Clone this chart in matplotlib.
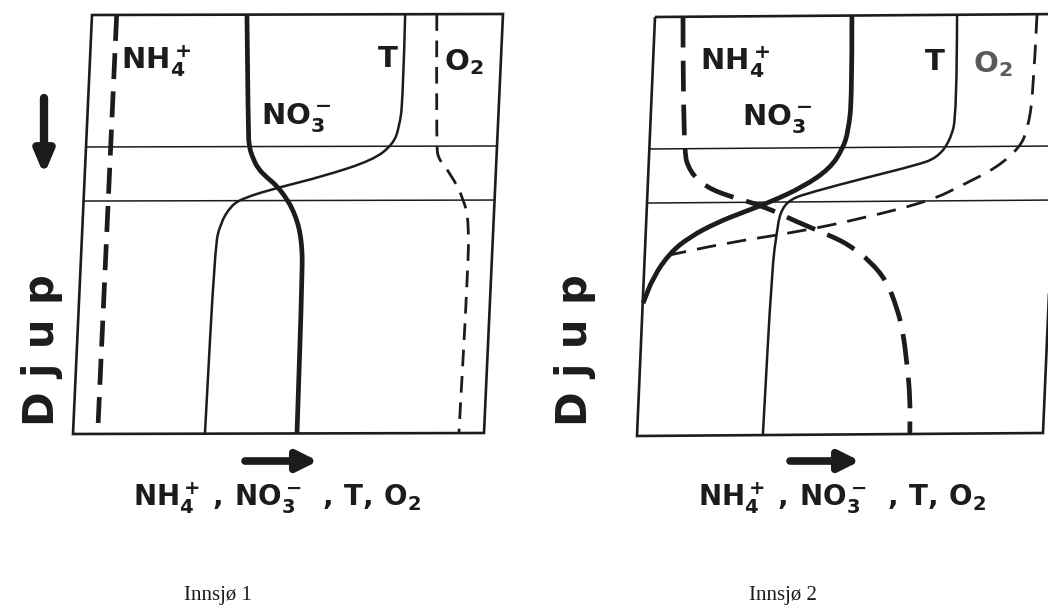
import numpy as np
import matplotlib
matplotlib.use("Agg")
import matplotlib.pyplot as plt
from matplotlib.transforms import Affine2D
from matplotlib.patches import Polygon, PathPatch
from matplotlib.path import Path

# Profiles: value across the panel (0-100), depth down (0-100)
layer_depths = [31.5, 44.4]

# Innsjø 1
l1_nh4_depth = [0, 100]
l1_nh4 = [6, 6]
l1_no3_depth = [0, 28, 31.5, 34, 36.8, 39, 41.1, 44.4, 47, 49.9, 52.5, 55.4, 60, 100]
l1_no3 = [37.7, 39.3, 39.7, 40.6, 42.1, 44.5, 47.1, 49.7, 51.2, 52.4, 53.1, 53.6, 54.0, 54.5]
l1_t_depth = [0, 20.5, 27, 31, 34.8, 38.7, 41.3, 43.7, 45.6, 49.9, 55.4, 100]
l1_t = [76.2, 76.6, 76.0, 74.7, 70.0, 57.8, 47.2, 39.0, 35.9, 33.5, 32.5, 32.1]
l1_o2_depth = [0, 31.5, 34.8, 38.2, 44.4, 49.9, 61.1, 100]
l1_o2 = [83.9, 85.2, 86.0, 89.1, 92.6, 94.0, 94.3, 93.9]

# Innsjø 2
l2_nh4_depth = [0, 31.7, 37.2, 40.8, 43.0, 45.3, 49.2, 52.5, 54.9, 58.7, 63.5, 69.9, 75.4, 83.5, 91.4, 100]
l2_nh4 = [6.9, 8.3, 10.3, 14.6, 20.4, 28.6, 37.2, 45.5, 50.5, 55.6, 59.9, 62.7, 64.4, 65.8, 66.9, 67.2]
l2_no3_depth = [0, 19.8, 27.7, 31.7, 36.5, 40.8, 44.4, 46.8, 49.2, 52.5, 56.3, 62.1, 68.3]
l2_no3 = [48.5, 49.4, 48.8, 47.7, 44.7, 38.3, 30.3, 23.7, 17.4, 11.0, 6.2, 2.3, 0.1]
l2_t_depth = [0, 23.9, 30.1, 34.1, 35.8, 38.9, 42.0, 43.7, 46.8, 51.6, 59.7, 100]
l2_t = [74.4, 75.4, 74.0, 71.0, 66.1, 53.0, 40.8, 35.2, 32.9, 32.3, 31.5, 31.0]
l2_o2_depth = [0, 19.8, 27.7, 31.7, 36.5, 40.6, 44.4, 48.4, 51.6, 53.9, 57.3]
l2_o2 = [94.1, 94.0, 92.9, 91.3, 85.9, 77.7, 69.7, 53.4, 37.3, 20.9, 3.8]

panel_names = ["Innsjø 1", "Innsjø 2"]
axis_label = r"$\mathrm{NH_4^+\;,\,NO_3^-\;\;,\,T,\,O_2}$"

plt.rcParams["mathtext.fontset"] = "custom"
plt.rcParams["mathtext.rm"] = "DejaVu Sans:bold"
plt.rcParams["mathtext.it"] = "DejaVu Sans:bold"
plt.rcParams["mathtext.bf"] = "DejaVu Sans:bold"
ink = "#1c1c1c"

fig = plt.figure(figsize=(10.48, 6.13), dpi=100)
ax = fig.add_axes([0, 0, 1, 1])
ax.set_xlim(0, 1048)
ax.set_ylim(613, 0)
ax.axis("off")


def panel_transform(tl, tr, bl):
    # maps (value, depth) in 0-100 onto the slightly skewed scanned frame
    m = np.array([[(tr[0] - tl[0]) / 100, (bl[0] - tl[0]) / 100, tl[0]],
                  [(tr[1] - tl[1]) / 100, (bl[1] - tl[1]) / 100, tl[1]],
                  [0, 0, 1]])
    return Affine2D(m) + ax.transData


def curve(xs, ys, tr, **kw):
    # quadratic spline through the read points (points act as control points)
    pts = np.column_stack([xs, ys])
    verts = [pts[0]]
    codes = [Path.MOVETO]
    for i in range(1, len(pts) - 1):
        verts += [pts[i], (pts[i] + pts[i + 1]) / 2]
        codes += [Path.CURVE3, Path.CURVE3]
    verts.append(pts[-1])
    codes.append(Path.LINETO)
    ax.add_patch(PathPatch(Path(verts, codes), fill=False, ec=ink,
                           transform=tr, capstyle="butt", **kw))


def draw_panel(tr, nh4, nh4_d, no3, no3_d, t, t_d, o2, o2_d, nh4_dash, o2_dash):
    ax.add_patch(Polygon([[0, 0], [100, 0], [100, 100], [0, 100]], closed=True,
                         fill=False, ec=ink, lw=1.9, transform=tr))
    for d in layer_depths:
        ax.plot([0, 100], [d, d], color=ink, lw=1.1, transform=tr)
    curve(nh4, nh4_d, tr, lw=3.4, ls=(0, nh4_dash))
    curve(no3, no3_d, tr, lw=3.4, joinstyle="round")
    curve(t, t_d, tr, lw=1.8, joinstyle="round")
    curve(o2, o2_d, tr, lw=2.0, ls=(0, o2_dash))


tr1 = panel_transform((92, 15), (503, 14), (73, 434))
tr2 = panel_transform((655, 17), (1061, 14), (637, 436))

draw_panel(tr1, l1_nh4, l1_nh4_depth, l1_no3, l1_no3_depth, l1_t, l1_t_depth,
           l1_o2, l1_o2_depth, (5.5, 2.6), (6, 3.5))
draw_panel(tr2, l2_nh4, l2_nh4_depth, l2_no3, l2_no3_depth, l2_t, l2_t_depth,
           l2_o2, l2_o2_depth, (6.5, 2.8), (7, 4))

# curve labels
lab = dict(fontsize=21, color=ink, va="baseline")
ax.text(121, 69, r"$\mathrm{NH_4^+}$", ha="left", **lab)
ax.text(261, 124, r"$\mathrm{NO_3^-}$", ha="left", **lab)
ax.text(388, 67, r"$\mathrm{T}$", ha="center", **lab)
ax.text(444, 70, r"$\mathrm{O_2}$", ha="left", **lab)
ax.text(700, 70, r"$\mathrm{NH_4^+}$", ha="left", **lab)
ax.text(742, 125, r"$\mathrm{NO_3^-}$", ha="left", **lab)
ax.text(935, 70, r"$\mathrm{T}$", ha="center", **lab)
ax.text(973, 72, r"$\mathrm{O_2}$", ha="left", fontsize=21, color="#5a5a5a", va="baseline")

# depth labels and arrows
for x in [42, 575]:
    ax.text(x, 350, "D j u p", rotation=90, ha="center", va="center",
            fontsize=30, fontweight="heavy", color=ink, family="DejaVu Sans")
ax.annotate("", xy=(44, 175), xytext=(44, 98),
            arrowprops=dict(arrowstyle="-|>,head_length=1.3,head_width=0.55",
                            lw=6, color=ink, shrinkA=0, shrinkB=0))

for xc, x0, x1, name in [(277, 245, 318, panel_names[0]), (842, 790, 860, panel_names[1])]:
    ax.annotate("", xy=(x1, 461), xytext=(x0, 461),
                arrowprops=dict(arrowstyle="-|>,head_length=1.2,head_width=0.6",
                                lw=5.5, color=ink, shrinkA=0, shrinkB=0))
    ax.text(xc, 506, axis_label, ha="center", va="baseline", fontsize=20, color=ink)
    ax.text(xc - 59, 600, name, ha="center", va="baseline", fontsize=15,
            color=ink, family=["Liberation Serif", "DejaVu Serif"])

fig.savefig("out.png", dpi=100)
